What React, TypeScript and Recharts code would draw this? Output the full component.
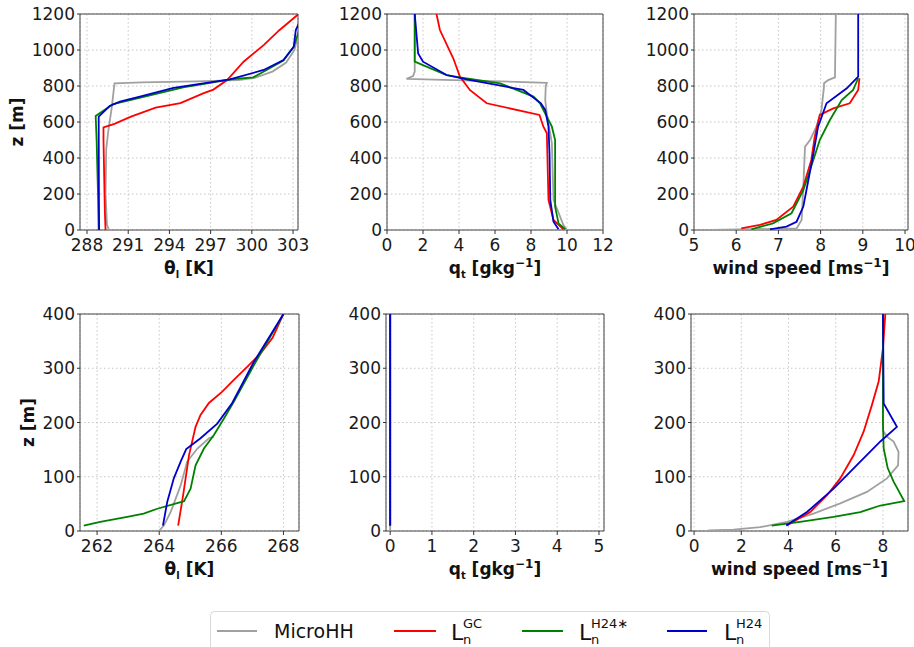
import React from 'react';
import { LineChart, Line, XAxis, YAxis, CartesianGrid, ReferenceArea, Label } from 'recharts';

// ---------- tick labels ----------
const topThetaTicks = [288, 291, 294, 297, 300, 303];
const topQTicks = [0, 2, 4, 6, 8, 10, 12];
const topWindTicks = [5, 6, 7, 8, 9, 10];
const topZTicks = [0, 200, 400, 600, 800, 1000, 1200];
const botThetaTicks = [262, 264, 266, 268];
const botQTicks = [0, 1, 2, 3, 4, 5];
const botWindTicks = [0, 2, 4, 6, 8];
const botZTicks = [0, 100, 200, 300, 400];

// ---------- series: [value, z] ----------
const topThetaMicroHH: number[][] = [[289.6,0],[289.45,30],[289.35,200],[289.4,450],[289.55,550],[289.8,680],[289.95,780],[290.0,815],[292,820],[296,826],[299,833],[300.2,845],[301.5,880],[302.5,930],[303.1,1000],[303.3,1060],[303.4,1100]];
const topThetaGC: number[][] = [[289.35,0],[289.3,100],[289.25,300],[289.2,500],[289.2,570],[290.0,590],[291.2,630],[293,680],[294.8,705],[296.5,760],[297.2,780],[298.2,833],[299.4,935],[300.9,1030],[302,1110],[303.4,1200]];
const topThetaH24s: number[][] = [[288.85,0],[288.8,200],[288.7,500],[288.63,633],[289.9,700],[291.36,726],[295,793],[298.7,839],[300.1,848],[302.3,941],[303.05,1018],[303.4,1100]];
const topThetaH24: number[][] = [[288.88,0],[288.86,300],[288.85,630],[289.65,689],[290.4,713],[291.85,741],[294.3,789],[298.4,837],[300.86,889],[302.3,944],[303.05,1018],[303.2,1111],[303.4,1144]];

const topQMicroHH: number[][] = [[10.0,0],[9.8,28],[9.25,167],[9.16,481],[8.88,648],[8.79,722],[8.82,800],[8.88,818],[1.08,840],[1.45,855],[1.54,880],[1.54,1200]];
const topQGC: number[][] = [[9.8,4],[9.25,56],[8.97,167],[8.88,537],[8.69,574],[8.47,639],[5.54,704],[4.6,778],[4.05,852],[3.68,954],[2.94,1111],[2.75,1200]];
const topQH24s: number[][] = [[9.9,4],[9.53,37],[9.34,130],[9.34,500],[9.16,574],[8.5,704],[8.14,741],[6.28,815],[4.05,848],[3.31,861],[1.54,935],[1.54,1200]];
const topQH24: number[][] = [[9.53,4],[9.25,46],[9.07,167],[9.03,420],[8.97,574],[8.79,667],[8.55,704],[7.58,778],[4.42,837],[3.31,861],[2.0,935],[1.73,981],[1.54,1200]];

const topWindMicroHH: number[][] = [[5.41,0],[7.43,9],[7.55,56],[7.59,241],[7.63,463],[7.75,500],[7.9,574],[8.02,667],[8.08,796],[8.08,815],[8.18,833],[8.34,848],[8.36,1200]];
const topWindGC: number[][] = [[6.12,9],[6.56,28],[6.95,56],[7.35,130],[7.59,241],[7.78,389],[7.86,518],[7.98,639],[8.3,676],[8.69,704],[8.89,778],[8.92,843]];
const topWindH24s: number[][] = [[6.36,4],[6.87,37],[7.31,93],[7.59,222],[7.75,333],[7.98,500],[8.22,611],[8.5,722],[8.77,778],[8.89,843]];
const topWindH24: number[][] = [[6.8,4],[7.19,19],[7.43,46],[7.59,130],[7.71,278],[7.83,426],[7.94,574],[8.14,704],[8.62,787],[8.89,852],[8.89,1200]];

const botThetaMicroHH: number[][] = [[263.99,0],[264.15,10],[264.37,35],[264.69,84],[264.9,128],[265.23,152],[265.6,171],[265.76,174]];
const botThetaGC: number[][] = [[264.61,10],[264.77,66],[264.96,140],[265.17,192],[265.33,214],[265.6,236],[266.03,257],[266.41,279],[266.84,303],[267.27,328],[267.65,356],[268.0,400]];
const botThetaH24s: number[][] = [[261.57,10],[262.1,17],[262.97,26],[263.5,32],[263.94,41],[264.8,55],[265.01,78],[265.17,121],[265.44,152],[265.76,177],[266.09,208],[266.41,239],[267.05,306],[268.0,400]];
const botThetaH24: number[][] = [[264.12,10],[264.26,54],[264.47,97],[264.69,128],[264.87,151],[265.33,171],[265.87,198],[266.35,236],[267.05,312],[268.0,400]];

const botQMicroHH: number[][] = [[0,1],[0,400]];
const botQGC: number[][] = [[0,10],[0,400]];
const botQH24s: number[][] = [[0,10],[0,400]];
const botQH24: number[][] = [[0,10],[0,400]];

const botWindMicroHH: number[][] = [[0.61,1],[1.67,2.5],[2.8,7],[3.93,17],[5.06,32],[6.19,51],[7.32,72],[8.17,97],[8.64,121],[8.66,146],[8.45,165],[8.17,174],[8.0,185],[8.0,400]];
const botWindGC: number[][] = [[3.93,10],[4.92,35],[5.63,66],[6.19,97],[6.76,140],[7.18,183],[7.53,232],[7.82,276],[8.0,337],[8.1,400]];
const botWindH24s: number[][] = [[3.29,10],[4.49,17],[5.91,26],[7.04,35],[7.89,47],[8.9,55],[8.45,91],[8.2,116],[8.03,152],[8.0,198],[8.0,400]];
const botWindH24: number[][] = [[3.9,10],[4.78,35],[5.91,78],[7.04,128],[7.89,165],[8.59,192],[8.03,235],[8.0,400]];

const COLORS = { micro: '#a0a0a0', gc: '#ff0000', h24s: '#008000', h24: '#0000cd' };
const FONT = 'DejaVu Sans, sans-serif';

const toPts = (arr: number[][]) => arr.map(([x, z]) => ({ x, z }));

type Box = { x0: number; x1: number; y0: number; y1: number };

const ML = 80, MT = 10, MR = 12, MB = 55;

function XLabel({ kind, cx, y }: { kind: string; cx: number; y: number }) {
  const common = { x: cx, y, textAnchor: 'middle' as const, fontSize: 17, fontWeight: 'bold' as const, fill: '#111', fontFamily: FONT };
  if (kind === 'theta') {
    return (
      <text {...common}>
        <tspan>θ</tspan><tspan dy={4} fontSize={10}>l</tspan><tspan dy={-4}> [K]</tspan>
      </text>
    );
  }
  if (kind === 'q') {
    return (
      <text {...common}>
        <tspan>q</tspan><tspan dy={4} fontSize={10}>t</tspan><tspan dy={-4}> [gkg</tspan><tspan dy={-7} fontSize={12}>−1</tspan><tspan dy={7}>]</tspan>
      </text>
    );
  }
  return (
    <text {...common}>
      <tspan>wind speed [ms</tspan><tspan dy={-7} fontSize={12}>−1</tspan><tspan dy={7}>]</tspan>
    </text>
  );
}

function Panel({ box, xDomain, yDomain, xTicks, yTicks, series, xKind, yLabelX }: {
  box: Box; xDomain: number[]; yDomain: number[]; xTicks: number[]; yTicks: number[];
  series: { data: number[][]; color: string; name: string }[]; xKind: string; yLabelX?: number;
}) {
  const PW = box.x1 - box.x0;
  const PH = box.y1 - box.y0;
  const w = PW + ML + MR;
  const h = PH + MT + MB;
  const tickStyle = { fontSize: 17, fill: '#1a1a1a', fontFamily: FONT };
  return (
    <div style={{ position: 'absolute', left: box.x0 - ML, top: box.y0 - MT }}>
      <LineChart width={w} height={h} margin={{ top: MT, right: MR, bottom: 0, left: 0 }}>
        <CartesianGrid stroke="#b8b8b8" strokeDasharray="1.5 2.5" strokeWidth={0.8} />
        <XAxis
          type="number" dataKey="x" domain={xDomain} ticks={xTicks} interval={0} allowDataOverflow
          height={MB} tick={tickStyle} tickSize={4} tickMargin={5} axisLine={false}
          tickLine={{ stroke: '#333' }}
        >
          <Label content={() => <XLabel kind={xKind} cx={ML + PW / 2} y={MT + PH + 44} />} />
        </XAxis>
        <YAxis
          type="number" dataKey="z" domain={yDomain} ticks={yTicks} interval={0} allowDataOverflow
          width={ML} tick={tickStyle} tickSize={3} tickMargin={2} axisLine={false}
          tickLine={{ stroke: '#333' }}
        >
          {yLabelX !== undefined && (
            <Label content={() => (
              <text
                transform={`translate(${yLabelX},${MT + PH / 2}) rotate(-90)`}
                textAnchor="middle" dominantBaseline="central"
                fontSize={17} fontWeight="bold" fill="#111" fontFamily={FONT}
              >z [m]</text>
            )} />
          )}
        </YAxis>
        {series.map((s) => (
          <Line
            key={s.name} data={toPts(s.data)} dataKey="z" type="linear" stroke={s.color}
            strokeWidth={1.8} dot={false} activeDot={false} isAnimationActive={false}
          />
        ))}
        <ReferenceArea
          x1={xDomain[0]} x2={xDomain[1]} y1={yDomain[0]} y2={yDomain[1]}
          fill="none" stroke="#444" strokeWidth={1} ifOverflow="visible"
        />
      </LineChart>
    </div>
  );
}

function Legend() {
  const t = { fontFamily: FONT, fill: '#111' };
  const entry = (x: number, sup: string) => (
    <g>
      <text x={x} y={640} fontSize={22} {...t}>L</text>
      <text x={x + 12} y={643.5} fontSize={13} {...t}>n</text>
      <text x={x + 12} y={628} fontSize={13} {...t}>{sup}</text>
    </g>
  );
  return (
    <svg width={914} height={647} style={{ position: 'absolute', left: 0, top: 0 }}>
      <rect x={210.5} y={611.5} width={559} height={60} rx={4} fill="#fff" stroke="#d8d8d8" />
      <line x1={217} x2={257} y1={631} y2={631} stroke={COLORS.micro} strokeWidth={1.8} />
      <text x={274} y={638} fontSize={19} {...t}>MicroHH</text>
      <line x1={394} x2={436} y1={631} y2={631} stroke={COLORS.gc} strokeWidth={1.8} />
      {entry(451, 'GC')}
      <line x1={522} x2={563} y1={631} y2={631} stroke={COLORS.h24s} strokeWidth={1.8} />
      {entry(579, 'H24∗')}
      <line x1={667} x2={707} y1={631} y2={631} stroke={COLORS.h24} strokeWidth={1.8} />
      {entry(724, 'H24')}
    </svg>
  );
}

const mkSeries = (a: number[][], b: number[][], c: number[][], d: number[][]) => [
  { data: a, color: COLORS.micro, name: 'MicroHH' },
  { data: b, color: COLORS.gc, name: 'GC' },
  { data: c, color: COLORS.h24s, name: 'H24s' },
  { data: d, color: COLORS.h24, name: 'H24' },
];

export default function App() {
  const topY = { y0: 14, y1: 230 };
  const botY = { y0: 314, y1: 531 };
  return (
    <div style={{ position: 'absolute', left: 0, top: 0, width: 914, height: 647, overflow: 'hidden', background: '#fff', fontFamily: FONT }}>
      <Panel box={{ x0: 80, x1: 298, ...topY }} xDomain={[287.49, 303.36]} yDomain={[0, 1200]}
        xTicks={topThetaTicks} yTicks={topZTicks} xKind="theta" yLabelX={17}
        series={mkSeries(topThetaMicroHH, topThetaGC, topThetaH24s, topThetaH24)} />
      <Panel box={{ x0: 387, x1: 603, ...topY }} xDomain={[0, 12]} yDomain={[0, 1200]}
        xTicks={topQTicks} yTicks={topZTicks} xKind="q"
        series={mkSeries(topQMicroHH, topQGC, topQH24s, topQH24)} />
      <Panel box={{ x0: 694, x1: 908, ...topY }} xDomain={[5, 10.07]} yDomain={[0, 1200]}
        xTicks={topWindTicks} yTicks={topZTicks} xKind="wind"
        series={mkSeries(topWindMicroHH, topWindGC, topWindH24s, topWindH24)} />
      <Panel box={{ x0: 80, x1: 299, ...botY }} xDomain={[261.45, 268.5]} yDomain={[0, 400]}
        xTicks={botThetaTicks} yTicks={botZTicks} xKind="theta" yLabelX={28}
        series={mkSeries(botThetaMicroHH, botThetaGC, botThetaH24s, botThetaH24)} />
      <Panel box={{ x0: 386, x1: 604, ...botY }} xDomain={[-0.1, 5.12]} yDomain={[0, 400]}
        xTicks={botQTicks} yTicks={botZTicks} xKind="q"
        series={mkSeries(botQMicroHH, botQGC, botQH24s, botQH24)} />
      <Panel box={{ x0: 691, x1: 908, ...botY }} xDomain={[-0.13, 9.06]} yDomain={[0, 400]}
        xTicks={botWindTicks} yTicks={botZTicks} xKind="wind"
        series={mkSeries(botWindMicroHH, botWindGC, botWindH24s, botWindH24)} />
      <Legend />
    </div>
  );
}
